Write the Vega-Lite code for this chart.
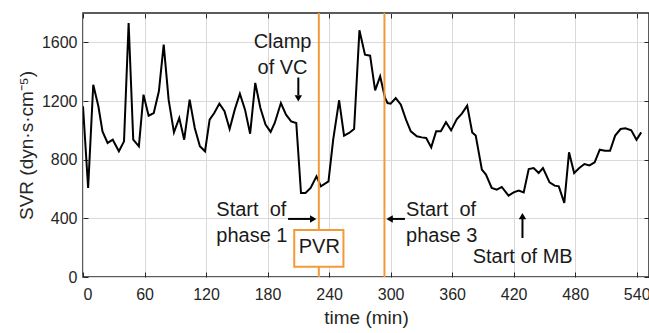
{
  "$schema": "https://vega.github.io/schema/vega-lite/v6.json",
  "width": 566,
  "height": 264,
  "autosize": {"type": "none"},
  "padding": {"left": 83, "top": 13, "right": 0, "bottom": 56},
  "background": "white",
  "config": {
    "font": "Liberation Sans",
    "view": {"stroke": "#262626", "strokeWidth": 1.5},
    "axis": {
      "labelFont": "Liberation Sans",
      "titleFont": "Liberation Sans",
      "labelFontSize": 16,
      "titleFontSize": 19,
      "titleFontWeight": "normal",
      "labelColor": "#262626",
      "titleColor": "#262626",
      "tickColor": "#262626",
      "tickSize": -5,
      "tickWidth": 1,
      "gridColor": "#d9d9d9",
      "gridWidth": 1,
      "domain": false
    }
  },
  "datasets": {
    "svr": [
      {"t": 0, "v": 1164}, {"t": 5, "v": 607}, {"t": 10, "v": 1311}, {"t": 15, "v": 1164},
      {"t": 19, "v": 993}, {"t": 24, "v": 914}, {"t": 29, "v": 936}, {"t": 35, "v": 857},
      {"t": 40, "v": 925}, {"t": 44.5, "v": 1732}, {"t": 49, "v": 936}, {"t": 54.5, "v": 891},
      {"t": 59, "v": 1243}, {"t": 64, "v": 1100}, {"t": 69, "v": 1118}, {"t": 74, "v": 1266},
      {"t": 78.7, "v": 1584}, {"t": 83.5, "v": 1209}, {"t": 88.7, "v": 986}, {"t": 93.9, "v": 1084},
      {"t": 98.7, "v": 936}, {"t": 104, "v": 1209}, {"t": 109, "v": 1016}, {"t": 114, "v": 891},
      {"t": 119, "v": 857}, {"t": 123.5, "v": 1073}, {"t": 128, "v": 1118}, {"t": 133, "v": 1182},
      {"t": 138, "v": 1130}, {"t": 143, "v": 1009}, {"t": 148, "v": 1141}, {"t": 153, "v": 1250},
      {"t": 158, "v": 1141}, {"t": 163, "v": 977}, {"t": 168, "v": 1323}, {"t": 173, "v": 1152},
      {"t": 178, "v": 1039}, {"t": 183, "v": 989}, {"t": 187, "v": 1050}, {"t": 193, "v": 1186},
      {"t": 198, "v": 1107}, {"t": 203, "v": 1061}, {"t": 208, "v": 1050}, {"t": 212.6, "v": 573},
      {"t": 217, "v": 573}, {"t": 222, "v": 607}, {"t": 227.7, "v": 686}, {"t": 232, "v": 618},
      {"t": 239.4, "v": 652}, {"t": 244, "v": 936}, {"t": 249.8, "v": 1205}, {"t": 254.6, "v": 964},
      {"t": 259.5, "v": 982}, {"t": 264.4, "v": 1009}, {"t": 269.6, "v": 1682}, {"t": 275, "v": 1516},
      {"t": 280, "v": 1509}, {"t": 284.9, "v": 1273}, {"t": 289.8, "v": 1368}, {"t": 294.6, "v": 1220},
      {"t": 297, "v": 1186}, {"t": 300, "v": 1182}, {"t": 305, "v": 1220}, {"t": 310, "v": 1175},
      {"t": 315, "v": 1073}, {"t": 319.7, "v": 993}, {"t": 325.6, "v": 959}, {"t": 330.4, "v": 952},
      {"t": 334.7, "v": 948}, {"t": 339.6, "v": 884}, {"t": 344.4, "v": 993}, {"t": 349, "v": 993},
      {"t": 354, "v": 1055}, {"t": 359, "v": 1000}, {"t": 364.6, "v": 1077}, {"t": 369.5, "v": 1114},
      {"t": 374.7, "v": 1168}, {"t": 379.6, "v": 986}, {"t": 383, "v": 964}, {"t": 389, "v": 732},
      {"t": 393, "v": 698}, {"t": 398.6, "v": 607}, {"t": 403.6, "v": 595}, {"t": 408.4, "v": 614},
      {"t": 415, "v": 555}, {"t": 420, "v": 577}, {"t": 424.9, "v": 589}, {"t": 429.8, "v": 577},
      {"t": 434.7, "v": 736}, {"t": 439.5, "v": 743}, {"t": 444.4, "v": 709}, {"t": 448.6, "v": 743},
      {"t": 455, "v": 645}, {"t": 460, "v": 623}, {"t": 464, "v": 618}, {"t": 469.4, "v": 505},
      {"t": 474, "v": 850}, {"t": 479, "v": 709}, {"t": 484, "v": 743}, {"t": 489, "v": 770},
      {"t": 494, "v": 761}, {"t": 499, "v": 782}, {"t": 504, "v": 868}, {"t": 509, "v": 861},
      {"t": 514, "v": 861}, {"t": 519, "v": 964}, {"t": 524.3, "v": 1009}, {"t": 529, "v": 1014},
      {"t": 534.7, "v": 1000}, {"t": 539.8, "v": 936}, {"t": 544.4, "v": 986}
    ],
    "phases": [{"t": 230}, {"t": 294}],
    "box": [{"t1": 206, "t2": 254, "v1": 70, "v2": 321, "label": "PVR", "tc": 230.5, "vc": 205}],
    "centerNotes": [
      {"t": 194.6, "v": 1600, "label": "Clamp\nof VC"},
      {"t": 428.8, "v": 139, "label": "Start of MB"}
    ],
    "leftNotes": [
      {"t": 130, "v": 454, "label": "Start \u00a0of\nphase 1"},
      {"t": 315.1, "v": 454, "label": "Start \u00a0of\nphase 3"}
    ],
    "shafts": [
      {"t": 210, "v": 1360, "t2": 210, "v2": 1240},
      {"t": 200, "v": 396, "t2": 222, "v2": 396},
      {"t": 314, "v": 396, "t2": 301, "v2": 396},
      {"t": 428.6, "v": 266, "t2": 428.6, "v2": 400}
    ],
    "heads": [
      {"t": 210, "v": 1218, "dir": "down"},
      {"t": 224.5, "v": 396, "dir": "right"},
      {"t": 299, "v": 396, "dir": "left"},
      {"t": 428.6, "v": 415, "dir": "up"}
    ]
  },
  "resolve": {"axis": {"x": "independent", "y": "independent"}},
  "layer": [
    {
      "data": {"name": "svr"},
      "mark": {"type": "line", "color": "black", "strokeWidth": 2, "clip": true},
      "encoding": {
        "x": {"field": "t", "type": "quantitative",
              "scale": {"domain": [0, 552], "nice": false, "zero": false},
              "axis": {"orient": "bottom", "values": [0, 60, 120, 180, 240, 300, 360, 420, 480, 540],
                       "format": "d", "title": "time (min)", "labelPadding": 14, "titlePadding": 6, "grid": true}},
        "y": {"field": "v", "type": "quantitative",
              "scale": {"domain": [0, 1800], "nice": false},
              "axis": {"orient": "left", "values": [0, 400, 800, 1200, 1600], "format": "d",
                       "title": "SVR (dyn·s·cm⁻⁵)", "labelPadding": 11, "titlePadding": 5, "grid": true}}
      }
    },
    {
      "data": {"name": "phases"},
      "mark": {"type": "rule", "color": "#f39a38", "strokeWidth": 2},
      "encoding": {
        "x": {"field": "t", "type": "quantitative",
              "axis": {"orient": "top", "values": [0, 60, 120, 180, 240, 300, 360, 420, 480, 540],
                       "labels": false, "grid": false, "title": null}}
      }
    },
    {
      "data": {"name": "box"},
      "mark": {"type": "rect", "fill": "white", "stroke": "#f39a38", "strokeWidth": 2},
      "encoding": {
        "x": {"field": "t1", "type": "quantitative", "axis": null},
        "x2": {"field": "t2"},
        "y": {"field": "v1", "type": "quantitative",
              "axis": {"orient": "right", "values": [0, 400, 800, 1200, 1600],
                       "labels": false, "grid": false, "title": null}},
        "y2": {"field": "v2"}
      }
    },
    {
      "data": {"name": "box"},
      "mark": {"type": "text", "fontSize": 20, "color": "#1a1a1a", "align": "center", "baseline": "middle"},
      "encoding": {
        "x": {"field": "tc", "type": "quantitative", "axis": null},
        "y": {"field": "vc", "type": "quantitative", "axis": null},
        "text": {"field": "label"}
      }
    },
    {
      "data": {"name": "centerNotes"},
      "mark": {"type": "text", "fontSize": 20, "color": "#1a1a1a", "align": "center", "baseline": "middle", "lineBreak": "\n", "lineHeight": 26},
      "encoding": {
        "x": {"field": "t", "type": "quantitative", "axis": null},
        "y": {"field": "v", "type": "quantitative", "axis": null},
        "text": {"field": "label"}
      }
    },
    {
      "data": {"name": "leftNotes"},
      "mark": {"type": "text", "fontSize": 20, "color": "#1a1a1a", "align": "left", "baseline": "middle", "lineBreak": "\n", "lineHeight": 26},
      "encoding": {
        "x": {"field": "t", "type": "quantitative", "axis": null},
        "y": {"field": "v", "type": "quantitative", "axis": null},
        "text": {"field": "label"}
      }
    },
    {
      "data": {"name": "shafts"},
      "mark": {"type": "rule", "color": "black", "strokeWidth": 2},
      "encoding": {
        "x": {"field": "t", "type": "quantitative", "axis": null},
        "y": {"field": "v", "type": "quantitative", "axis": null},
        "x2": {"field": "t2"},
        "y2": {"field": "v2"}
      }
    },
    {
      "data": {"name": "heads"},
      "mark": {"type": "point", "filled": true, "color": "black", "size": 55, "opacity": 1},
      "encoding": {
        "x": {"field": "t", "type": "quantitative", "axis": null},
        "y": {"field": "v", "type": "quantitative", "axis": null},
        "shape": {"field": "dir", "type": "nominal",
                  "scale": {"domain": ["down", "right", "left", "up"],
                            "range": ["triangle-down", "triangle-right", "triangle-left", "triangle-up"]},
                  "legend": null}
      }
    }
  ]
}
